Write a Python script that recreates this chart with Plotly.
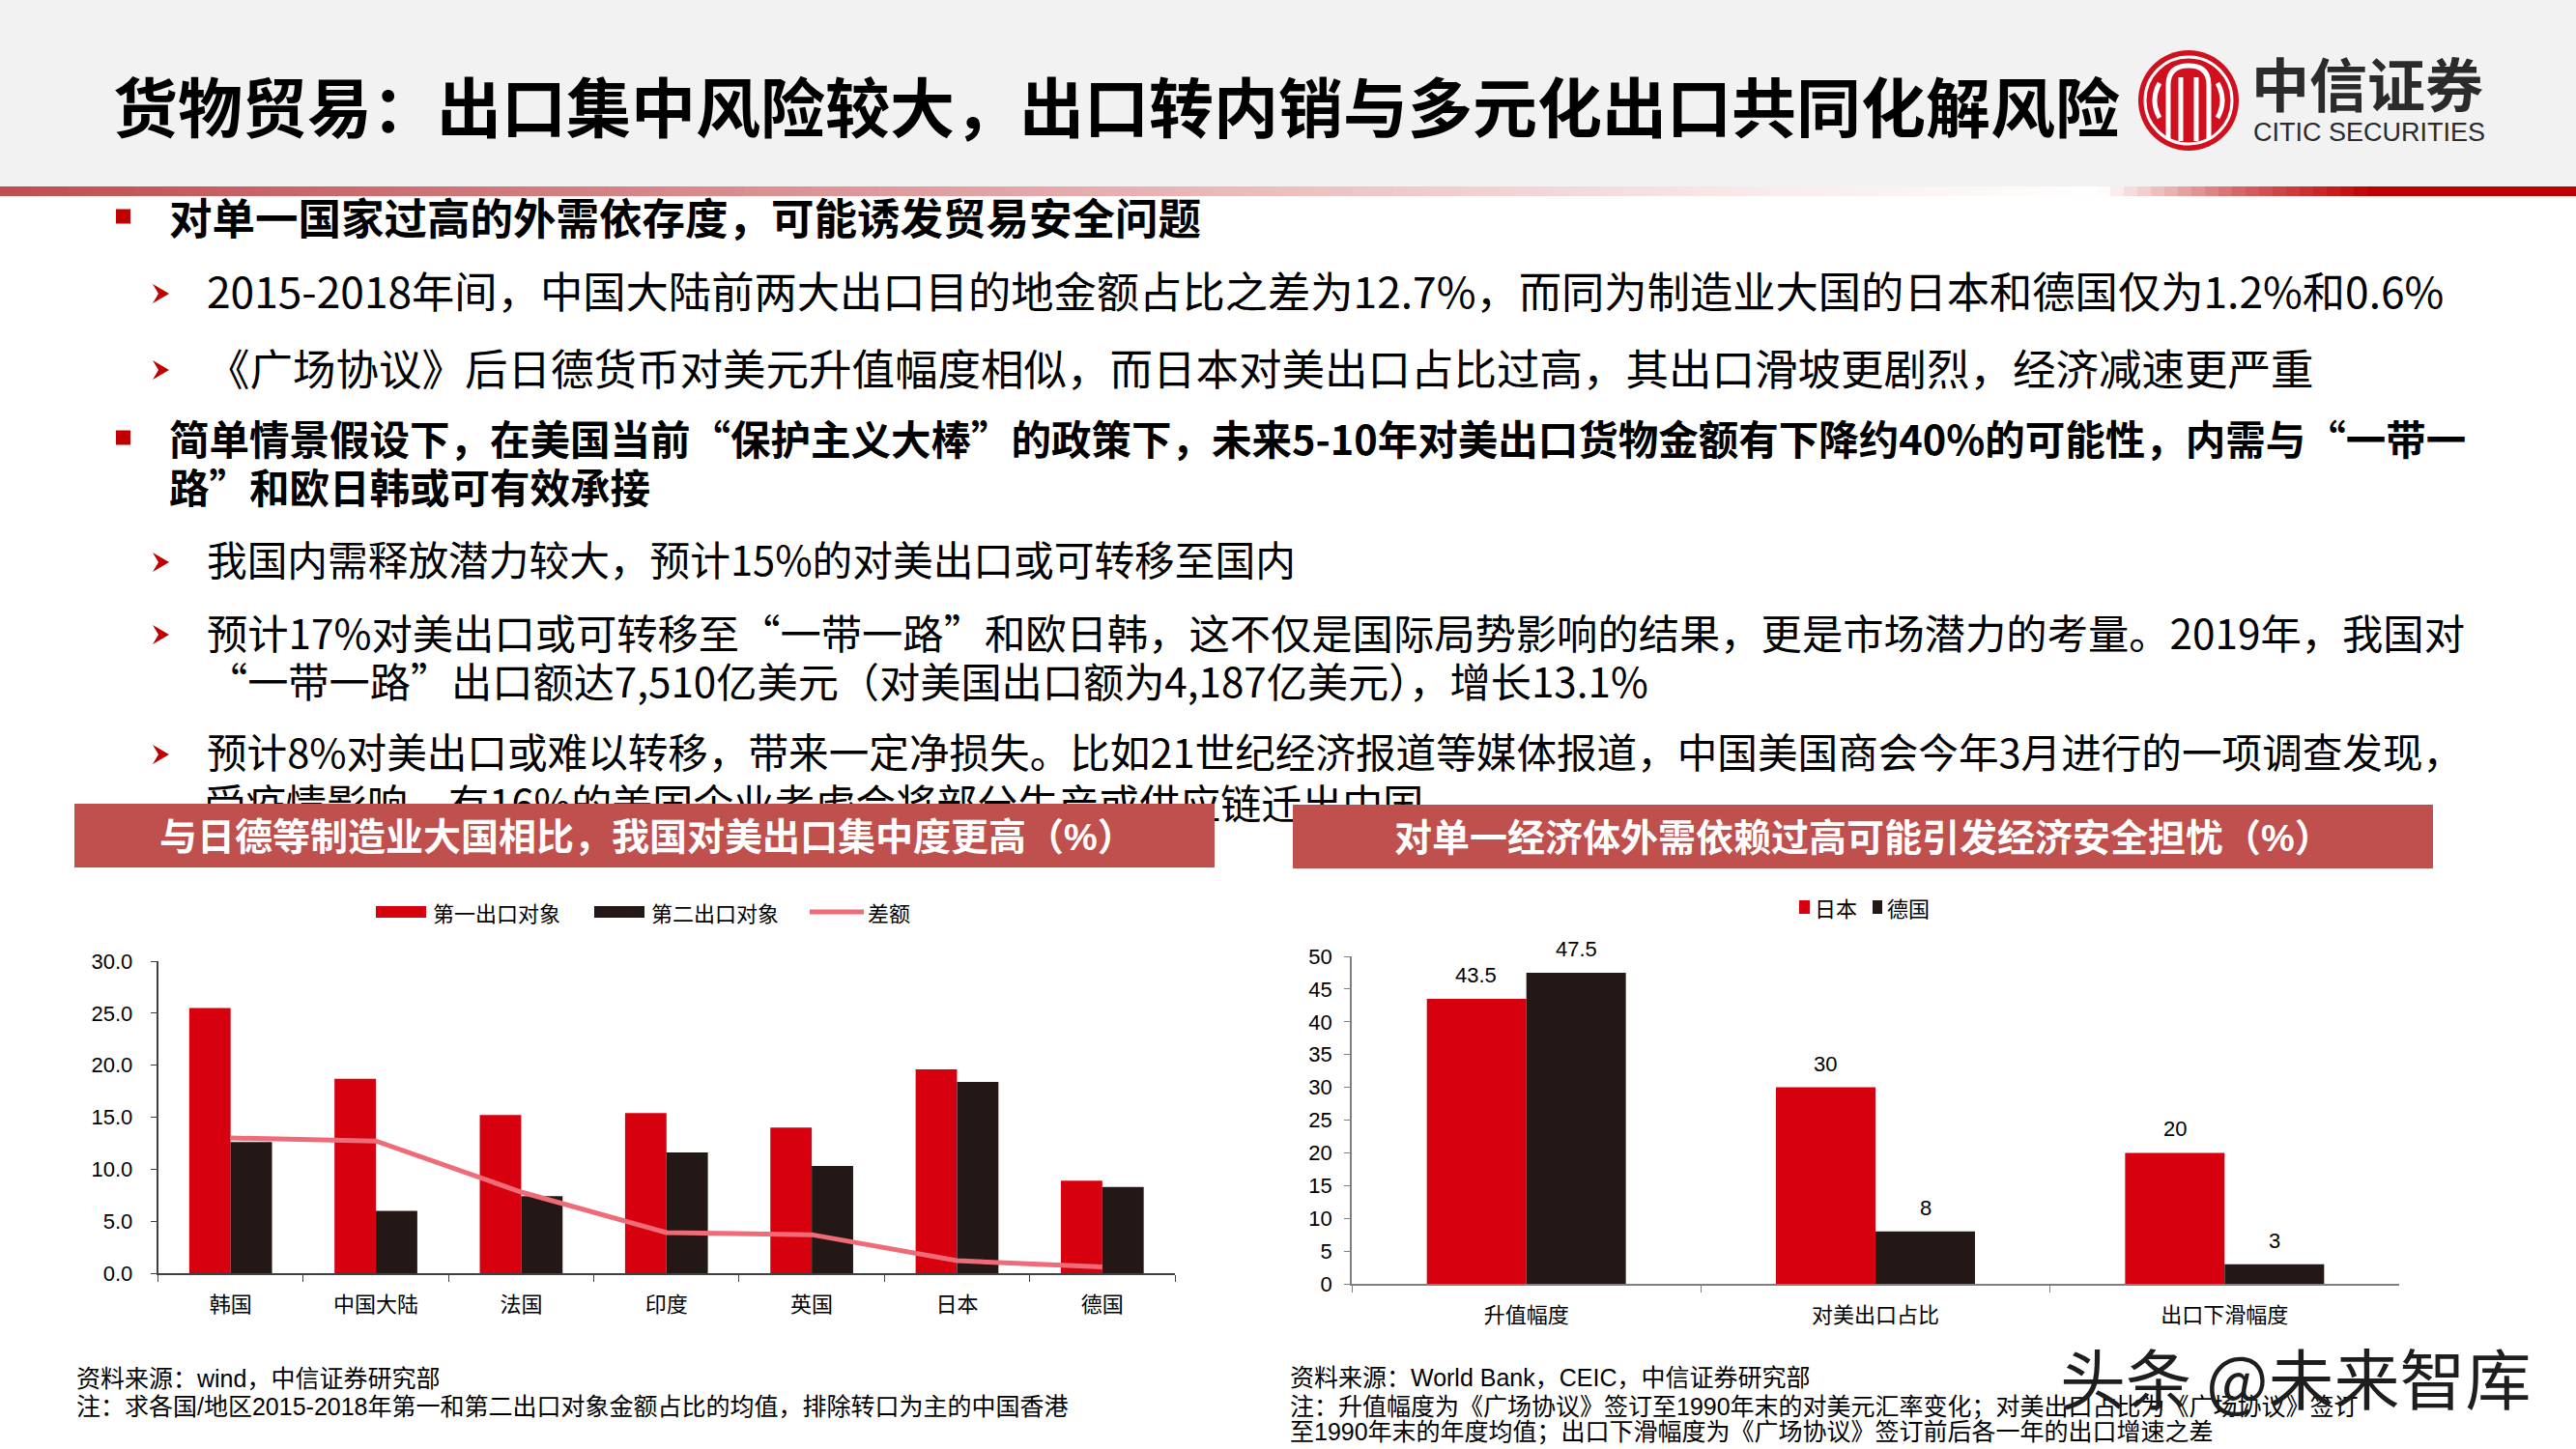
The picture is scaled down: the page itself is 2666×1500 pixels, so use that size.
import plotly.graph_objects as go

W, H = 2666, 1500

# ---------------- data ----------------
left_categories = ["韩国", "中国大陆", "法国", "印度", "英国", "日本", "德国"]
first_partner = [25.5, 18.7, 15.2, 15.4, 14.0, 19.6, 8.9]
second_partner = [12.6, 6.0, 7.4, 11.6, 10.3, 18.4, 8.3]
gap_values = [13.0, 12.7, 7.8, 3.9, 3.7, 1.2, 0.6]
left_series_names = ["第一出口对象", "第二出口对象", "差额"]

right_categories = ["升值幅度", "对美出口占比", "出口下滑幅度"]
japan_values = [43.5, 30, 20]
germany_values = [47.5, 8, 3]
right_series_names = ["日本", "德国"]

left_ticks = [0, 5, 10, 15, 20, 25, 30]
right_ticks = [0, 5, 10, 15, 20, 25, 30, 35, 40, 45, 50]

# ---------------- styles ----------------
RED = "#D7000F"
BLACK = "#231815"
PINK = "#EF6B78"
HEADER = "#C0504D"
CJK = "Noto Sans CJK SC"
MIX = "Liberation Sans, Arial, Noto Sans CJK SC"
NUMF = "Liberation Sans, Arial, Noto Sans CJK SC"


def py(y):
    return 1 - y / H


fig = go.Figure()

# ---------------- charts ----------------
fig.add_trace(go.Bar(x=left_categories, y=first_partner, name=left_series_names[0],
                     marker=dict(color=RED, line=dict(width=0)), xaxis="x", yaxis="y", showlegend=False))
fig.add_trace(go.Bar(x=left_categories, y=second_partner, name=left_series_names[1],
                     marker=dict(color=BLACK, line=dict(width=0)), xaxis="x", yaxis="y", showlegend=False))
fig.add_trace(go.Scatter(x=left_categories, y=gap_values, name=left_series_names[2], mode="lines",
                         line=dict(color=PINK, width=5), xaxis="x", yaxis="y", showlegend=False))

fig.add_trace(go.Bar(x=right_categories, y=japan_values, name=right_series_names[0],
                     marker=dict(color=RED, line=dict(width=0)), xaxis="x2", yaxis="y2", showlegend=False))
fig.add_trace(go.Bar(x=right_categories, y=germany_values, name=right_series_names[1],
                     marker=dict(color=BLACK, line=dict(width=0)), xaxis="x2", yaxis="y2", showlegend=False))

# clipped last text line (drawn as trace so header bar can cover it)
fig.add_trace(go.Scatter(x=[212], y=[837], mode="text",
                         text=["受疫情影响，有16%的美国企业考虑会将部分生产或供应链迁出中国"],
                         textposition="middle right",
                         textfont=dict(family=CJK, size=42, color="#000000"),
                         xaxis="x3", yaxis="y3", showlegend=False, hoverinfo="skip"))

axis_common = dict(showgrid=False, zeroline=False, showline=True, ticks="outside", automargin=False)

layout = dict(
    width=W, height=H, autosize=False,
    margin=dict(l=0, r=0, t=0, b=0, pad=0, autoexpand=False),
    paper_bgcolor="white",
    plot_bgcolor="rgba(0,0,0,0)",
    barmode="group", bargap=0.43, bargroupgap=0,
    showlegend=False,
    xaxis=dict(axis_common, domain=[163.5 / W, 1216 / W], anchor="y", type="category",
               tickson="boundaries", ticklen=7, tickcolor="#404040", linecolor="#404040", linewidth=1.5,
               tickfont=dict(family=CJK, size=22, color="#000"), ticklabelstandoff=12),
    yaxis=dict(axis_common, domain=[py(1318), py(995)], anchor="x", range=[0, 30],
               tickvals=left_ticks, tickformat=".1f", ticklen=6, tickcolor="#404040",
               linecolor="#404040", linewidth=1.5,
               tickfont=dict(family=NUMF, size=22, color="#000"), ticklabelstandoff=14),
    xaxis2=dict(axis_common, domain=[1399 / W, 2483 / W], anchor="y2", type="category",
                tickson="boundaries", ticklen=7, tickcolor="#7f7f7f", linecolor="#7f7f7f", linewidth=1.5,
                tickfont=dict(family=CJK, size=22, color="#000"), ticklabelstandoff=12),
    yaxis2=dict(axis_common, domain=[py(1329), py(990)], anchor="x2", range=[0, 50],
                tickvals=right_ticks, ticklen=6, tickcolor="#7f7f7f", linecolor="#7f7f7f", linewidth=1.5,
                tickfont=dict(family=NUMF, size=22, color="#000"), ticklabelstandoff=8),
    xaxis3=dict(domain=[0, 1], range=[0, W], visible=False, anchor="y3", fixedrange=True, automargin=False),
    yaxis3=dict(domain=[0, 1], range=[H, 0], visible=False, anchor="x3", fixedrange=True, automargin=False),
)
fig.update_layout(**layout)

shapes = []
ann = []

# ---------------- header band ----------------
shapes.append(dict(type="rect", xref="x3", yref="y3", x0=0, x1=W, y0=0, y1=193,
                   fillcolor="#F2F2F2", line=dict(width=0), layer="below"))
stops = [(0.0, (192, 76, 80)), (0.42, (230, 172, 174)), (0.68, (248, 234, 234)),
         (0.815, (255, 255, 255)), (0.87, (214, 100, 100)), (0.92, (192, 0, 0)), (1.0, (192, 0, 0))]


def grad(t):
    for (t0, c0), (t1, c1) in zip(stops[:-1], stops[1:]):
        if t0 <= t <= t1:
            f = (t - t0) / (t1 - t0) if t1 > t0 else 0
            return "rgb(%d,%d,%d)" % tuple(round(a + (b - a) * f) for a, b in zip(c0, c1))
    return "rgb(192,0,0)"


step = 14
xs = 0
while xs < W:
    xe = min(W, xs + step)
    shapes.append(dict(type="rect", xref="x3", yref="y3", x0=xs, x1=xe + 0.5, y0=193, y1=203,
                       fillcolor=grad((xs + xe) / 2 / W), line=dict(width=0), layer="below"))
    xs = xe

# logo
cx, cy = 2265, 104
shapes.append(dict(type="circle", xref="x3", yref="y3", x0=cx - 52, x1=cx + 52, y0=cy - 52, y1=cy + 52,
                   fillcolor="#D0101E", line=dict(width=0), layer="above"))
shapes.append(dict(type="circle", xref="x3", yref="y3", x0=cx - 45, x1=cx + 45, y0=cy - 45, y1=cy + 45,
                   fillcolor="rgba(0,0,0,0)", line=dict(color="white", width=3), layer="above"))
shapes.append(dict(type="path", xref="x3", yref="y3", layer="above",
                   path=f"M {cx-21},{cy+40} L {cx-21},{cy-16} Q {cx-21},{cy-36} {cx},{cy-36} "
                        f"Q {cx+21},{cy-36} {cx+21},{cy-16} L {cx+21},{cy+40}",
                   line=dict(color="white", width=5)))
for dx in (-8, 8):
    shapes.append(dict(type="line", xref="x3", yref="y3", layer="above",
                       x0=cx + dx, x1=cx + dx, y0=cy - 24, y1=cy + 42, line=dict(color="white", width=5)))
shapes.append(dict(type="path", xref="x3", yref="y3", layer="above",
                   path=f"M {cx-30},{cy-18} Q {cx-40},{cy} {cx-30},{cy+18}", line=dict(color="white", width=5)))
shapes.append(dict(type="path", xref="x3", yref="y3", layer="above",
                   path=f"M {cx+30},{cy-18} Q {cx+40},{cy} {cx+30},{cy+18}", line=dict(color="white", width=5)))

ann.append(dict(xref="x3", yref="y3", x=2328, y=84, xanchor="left", yanchor="middle", showarrow=False,
                text="<b>中信证券</b>", font=dict(family=CJK, size=60, color="#2b2b2b")))
ann.append(dict(xref="x3", yref="y3", x=2330, y=137, xanchor="left", yanchor="middle", showarrow=False,
                text="CITIC SECURITIES", font=dict(family="Liberation Sans, Arial", size=27, color="#2b2b2b")))

# title
ann.append(dict(xref="x3", yref="y3", x=115, y=107, xanchor="left", yanchor="middle", showarrow=False,
                text="<b>货物贸易：出口集中风险较大，出口转内销与多元化出口共同化解风险</b>",
                font=dict(family=CJK, size=67, color="#000000")))

# ---------------- bullets ----------------
for yc in (224, 453):
    shapes.append(dict(type="rect", xref="x3", yref="y3", x0=120, x1=135, y0=yc - 7.5, y1=yc + 7.5,
                       fillcolor="#C00000", line=dict(width=0), layer="above"))
for yc in (304, 383, 582, 657, 781):
    shapes.append(dict(type="path", xref="x3", yref="y3", layer="above",
                       path=f"M 158,{yc-10} L 175,{yc} L 158,{yc+10} L 164,{yc} Z",
                       fillcolor="#C00000", line=dict(width=0)))

lines = [
    (173, 223, 44.5, "<b>对单一国家过高的外需依存度，可能诱发贸易安全问题</b>"),
    (212, 300, 44.3, "2015-2018年间，中国大陆前两大出口目的地金额占比之差为12.7%，而同为制造业大国的日本和德国仅为1.2%和0.6%"),
    (212, 379, 44.5, "《广场协议》后日德货币对美元升值幅度相似，而日本对美出口占比过高，其出口滑坡更剧烈，经济减速更严重"),
    (173, 453, 41.5, "<b>简单情景假设下，在美国当前“保护主义大棒”的政策下，未来5-10年对美出口货物金额有下降约40%的可能性，内需与“一带一</b>"),
    (173, 503, 41.5, "<b>路”和欧日韩或可有效承接</b>"),
    (212, 578, 41.7, "我国内需释放潜力较大，预计15%的对美出口或可转移至国内"),
    (212, 653, 42.3, "预计17%对美出口或可转移至“一带一路”和欧日韩，这不仅是国际局势影响的结果，更是市场潜力的考量。2019年，我国对"),
    (212, 703, 42.2, "“一带一路”出口额达7,510亿美元（对美国出口额为4,187亿美元），增长13.1%"),
    (212, 777, 41.6, "预计8%对美出口或难以转移，带来一定净损失。比如21世纪经济报道等媒体报道，中国美国商会今年3月进行的一项调查发现，"),
]
for x, y, s, t in lines:
    ann.append(dict(xref="x3", yref="y3", x=x, y=y, xanchor="left", yanchor="middle", showarrow=False,
                    text=t, font=dict(family=CJK, size=s, color="#000000")))

# ---------------- chart headers ----------------
shapes.append(dict(type="rect", xref="x3", yref="y3", x0=77, x1=1257, y0=832, y1=898,
                   fillcolor=HEADER, line=dict(width=0), layer="above"))
shapes.append(dict(type="rect", xref="x3", yref="y3", x0=1338, x1=2518, y0=833, y1=899,
                   fillcolor=HEADER, line=dict(width=0), layer="above"))
ann.append(dict(xref="x3", yref="y3", x=670, y=866, xanchor="center", yanchor="middle", showarrow=False,
                text="<b>与日德等制造业大国相比，我国对美出口集中度更高（%）</b>",
                font=dict(family=MIX, size=39, color="white")))
ann.append(dict(xref="x3", yref="y3", x=1928, y=867, xanchor="center", yanchor="middle", showarrow=False,
                text="<b>对单一经济体外需依赖过高可能引发经济安全担忧（%）</b>",
                font=dict(family=MIX, size=39, color="white")))

# ---------------- legends ----------------
shapes.append(dict(type="rect", xref="x3", yref="y3", x0=389, x1=441, y0=938, y1=950,
                   fillcolor=RED, line=dict(width=0), layer="above"))
shapes.append(dict(type="rect", xref="x3", yref="y3", x0=615, x1=667, y0=938, y1=950,
                   fillcolor=BLACK, line=dict(width=0), layer="above"))
shapes.append(dict(type="line", xref="x3", yref="y3", x0=838, x1=894, y0=944, y1=944,
                   line=dict(color=PINK, width=5), layer="above"))
for x, t in ((446, left_series_names[0]), (672, left_series_names[1]), (896, left_series_names[2])):
    ann.append(dict(xref="x3", yref="y3", x=x, y=944, xanchor="left", yanchor="middle", showarrow=False,
                    text=t, font=dict(family=CJK, size=22, color="#000")))

shapes.append(dict(type="rect", xref="x3", yref="y3", x0=1862, x1=1873, y0=932, y1=946,
                   fillcolor=RED, line=dict(width=0), layer="above"))
shapes.append(dict(type="rect", xref="x3", yref="y3", x0=1938, x1=1948, y0=932, y1=946,
                   fillcolor=BLACK, line=dict(width=0), layer="above"))
for x, t in ((1876, right_series_names[0]), (1951, right_series_names[1])):
    ann.append(dict(xref="x3", yref="y3", x=x, y=939, xanchor="left", yanchor="middle", showarrow=False,
                    text=t, font=dict(family=CJK, size=22, color="#000")))

# ---------------- data labels (right chart) ----------------
for cat, jv, gv in zip(right_categories, japan_values, germany_values):
    for v, shift in ((jv, -51.75), (gv, 51.75)):
        ann.append(dict(xref="x2", yref="y2", x=cat, y=v, xshift=shift, yshift=10,
                        xanchor="center", yanchor="bottom", showarrow=False,
                        text=f"{v:g}", font=dict(family=NUMF, size=22, color="#000")))

# ---------------- footnotes ----------------
notes = [
    (77, 1427, "资料来源：wind，中信证券研究部"),
    (77, 1456, "注：求各国/地区2015-2018年第一和第二出口对象金额占比的均值，排除转口为主的中国香港"),
    (1333, 1426, "资料来源：World Bank，CEIC，中信证券研究部"),
    (1333, 1456, "注：升值幅度为《广场协议》签订至1990年末的对美元汇率变化；对美出口占比为《广场协议》签订"),
    (1333, 1482, "至1990年末的年度均值；出口下滑幅度为《广场协议》签订前后各一年的出口增速之差"),
]
for x, y, t in notes:
    ann.append(dict(xref="x3", yref="y3", x=x, y=y, xanchor="left", yanchor="middle", showarrow=False,
                    text=t, font=dict(family=MIX, size=25, color="#000")))

# watermark
ann.append(dict(xref="x3", yref="y3", x=2130, y=1424, xanchor="left", yanchor="middle", showarrow=False,
                text="头条 @未来智库", font=dict(family=CJK, size=68, color="#1e1e1e")))

fig.update_layout(shapes=shapes, annotations=ann)
fig.write_html("out.html", config={"displayModeBar": False},
               post_script="document.body.style.margin='0';document.body.style.overflow='hidden';")
